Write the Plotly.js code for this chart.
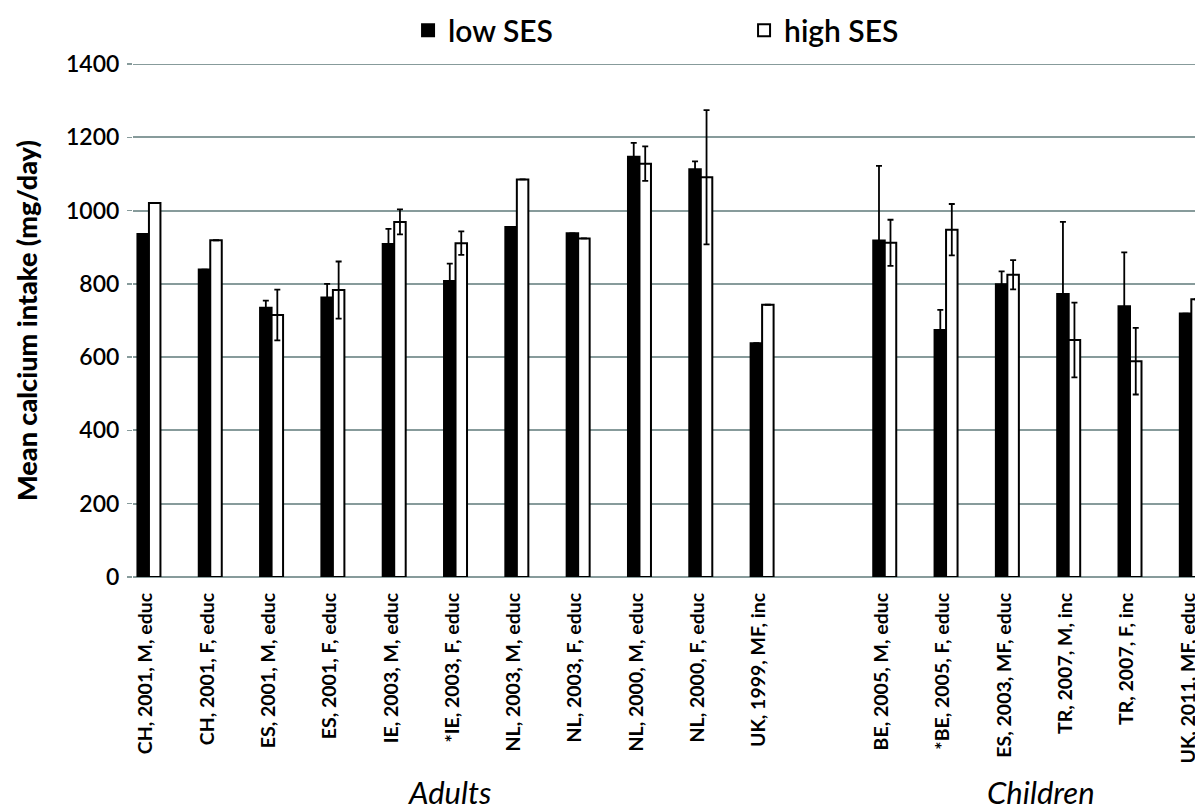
<!DOCTYPE html>
<html>
<head>
<meta charset="utf-8">
<script src="https://cdn.plot.ly/plotly-3.0.1.min.js"></script>
<style>
html, body { margin: 0; padding: 0; overflow: hidden; background: #fff; }
#chart { width: 1195px; height: 812px; }
</style>
</head>
<body>
<div id="chart"></div>
<script>
const categories = ["CH, 2001, M, educ","CH, 2001, F, educ","ES, 2001, M, educ","ES, 2001, F, educ","IE, 2003, M, educ","*IE, 2003, F, educ","NL, 2003, M, educ","NL, 2003, F, educ","NL, 2000, M, educ","NL, 2000, F, educ","UK, 1999, MF, inc","","BE, 2005, M, educ","*BE, 2005, F, educ","ES, 2003, MF, educ","TR, 2007, M, inc","TR, 2007, F, inc","UK, 2011, MF, educ"];
const lowSES  = [936, 839, 735, 763, 909, 808, 955, 938, 1147, 1113, 638, null, 918, 674, 799, 772, 739, 719];
const lowErr  = [null, null, 19, 37, 41, 47, null, null, 38, 21, null, null, 204, 55, 35, 197, 147, null];
const highSES = [1021, 919, 715, 783, 969, 911, 1085, 924, 1128, 1091, 743, null, 912, 948, 825, 647, 589, 758];
const highErr = [null, null, 69, 78, 34, 32, null, null, 47, 183, null, null, 63, 70, 40, 102, 91, null];
const groupLabels = ["Adults", "Children"];
const yTicks = [0, 200, 400, 600, 800, 1000, 1200, 1400];

const xpos = categories.map((c, i) => i);
const font = "Lato, 'Open Sans', sans-serif";
const gridColor = "#879b9b";

const traces = [
  {
    type: "bar", name: "low SES", x: xpos, y: lowSES,
    marker: { color: "#000000", line: { color: "#000000", width: 2 } },
    error_y: { type: "data", array: lowErr, visible: true, color: "#000000", thickness: 1.8, width: 3 }
  },
  {
    type: "bar", name: "high SES", x: xpos, y: highSES,
    marker: { color: "#ffffff", line: { color: "#000000", width: 2 } },
    error_y: { type: "data", array: highErr, visible: true, color: "#000000", thickness: 1.8, width: 3 }
  }
];

const layout = {
  width: 1195, height: 812,
  margin: { l: 133, r: 0, t: 64, b: 235 },
  paper_bgcolor: "#ffffff", plot_bgcolor: "#ffffff",
  font: { family: font, color: "#000000" },
  barmode: "group", bargap: 0.625, bargroupgap: 0,
  showlegend: true,
  legend: {
    orientation: "h", x: 0.259, xanchor: "left", y: 1.066, yanchor: "middle",
    font: { size: 30, family: font, weight: 600 }, entrywidth: 291, traceorder: "normal",
    itemclick: false
  },
  xaxis: {
    range: [-0.26, 17.06], tickmode: "array", tickvals: xpos, ticktext: categories,
    tickangle: -90, tickfont: { size: 19.5, family: font, weight: "bold" },
    showgrid: false, zeroline: false, showline: false, ticks: "",
    ticklabelstandoff: 11, ticklabelshift: -3, ticklabeloverflow: "allow"
  },
  yaxis: {
    range: [0, 1400], tickmode: "array", tickvals: yTicks,
    showgrid: true, gridcolor: gridColor, gridwidth: 2,
    zeroline: true, zerolinecolor: gridColor, zerolinewidth: 2,
    showline: false, ticks: "outside", ticklen: 5, tickcolor: gridColor, tickwidth: 1.5,
    ticklabelstandoff: 3,
    tickfont: { size: 23, family: font, weight: 600 },
    title: { text: "Mean calcium intake (mg/day)", font: { size: 27, family: font, weight: 900 }, standoff: 20 }
  },
  shapes: [
    { type: "line", xref: "paper", yref: "y", x0: 0, x1: 1, y0: 1400, y1: 1400, line: { color: gridColor, width: 2 }, layer: "below" }
  ],
  annotations: [
    { text: groupLabels[0], xref: "paper", yref: "paper", x: (449 - 133) / 1062, y: -0.46, xanchor: "center", yanchor: "bottom", showarrow: false, font: { size: 31, family: font, style: "italic" } },
    { text: groupLabels[1], xref: "paper", yref: "paper", x: (1041 - 133) / 1062, y: -0.46, xanchor: "center", yanchor: "bottom", showarrow: false, font: { size: 31, family: font, style: "italic" } }
  ]
};

Plotly.newPlot("chart", traces, layout, { staticPlot: true, displayModeBar: false });
</script>
</body>
</html>
